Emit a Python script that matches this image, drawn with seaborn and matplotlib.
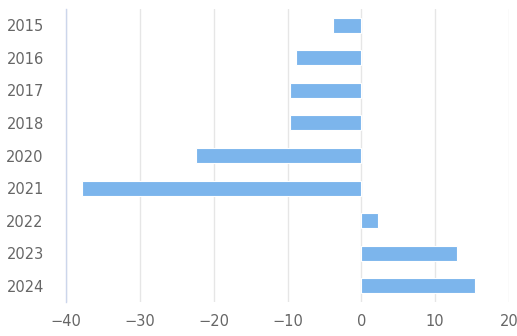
import matplotlib
matplotlib.use("Agg")
import matplotlib.pyplot as plt
import seaborn as sns
import pandas as pd

years = ["2015", "2016", "2017", "2018", "2020", "2021", "2022", "2023", "2024"]
values = [-3.8, -8.9, -9.6, -9.7, -22.4, -37.8, 2.2, 12.9, 15.4]

df = pd.DataFrame({"year": years, "value": values})

sns.set_style("white")
plt.rcParams["font.family"] = ["DejaVu Sans"]

fig = plt.figure(figsize=(5.17, 3.36), dpi=100)
ax = fig.add_axes([66 / 517, 1 - 302 / 336, (509 - 66) / 517, (302 - 9) / 336])

sns.barplot(data=df, x="value", y="year", order=years, orient="h",
            color="#7cb5ec", saturation=1, width=0.46,
            edgecolor="white", linewidth=0.8, ax=ax)

ax.set_xlim(-40, 20)
ax.set_xticks([-40, -30, -20, -10, 0, 10, 20])
ax.set_xticklabels(["\u221240", "\u221230", "\u221220", "\u221210", "0", "10", "20"])
ax.xaxis.grid(True, color="#e6e6e6", linewidth=1)
ax.yaxis.grid(False)
ax.set_axisbelow(True)
for s in ["top", "right", "bottom"]:
    ax.spines[s].set_visible(False)
ax.spines["left"].set_color("#ccd6eb")
ax.spines["left"].set_linewidth(1)
ax.tick_params(axis="y", length=0, pad=16, labelsize=10.5, labelcolor="#666666")
ax.tick_params(axis="x", length=0, pad=9, labelsize=10.5, labelcolor="#666666")
ax.set_xlabel("")
ax.set_ylabel("")

fig.savefig("out.png", dpi=100)
